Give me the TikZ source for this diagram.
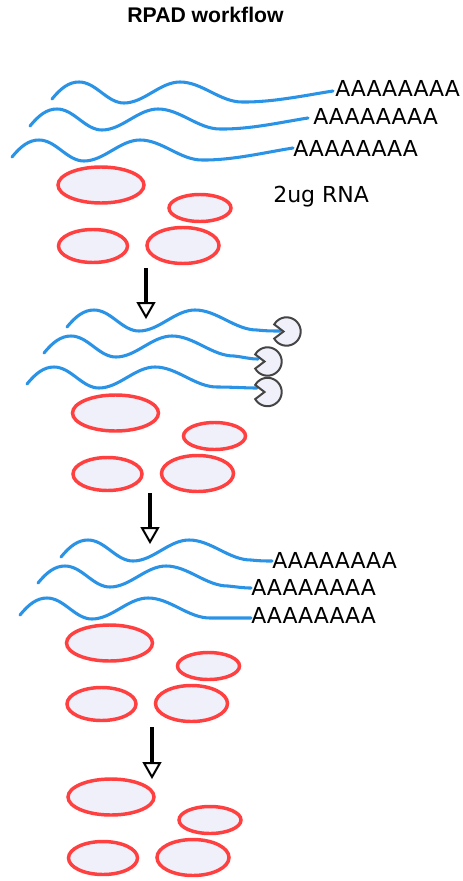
\documentclass[tikz,border=0pt]{standalone}
\usepackage{fontspec}
\setmainfont{DejaVu Sans}
\newfontfamily\headfont{Liberation Sans}
\usetikzlibrary{arrows.meta}

\definecolor{rnablue}{HTML}{2A93E6}
\definecolor{cellred}{HTML}{FF4040}
\definecolor{cellfill}{HTML}{F0F0FA}
\definecolor{enzgray}{HTML}{444444}

\tikzset{
  rna/.style={draw=rnablue, line width=2.3pt, line cap=round},
  cell/.style={draw=cellred, fill=cellfill, line width=2.6pt},
  polya/.style={anchor=base west, inner sep=0pt, font=\fontsize{16.5}{20}\selectfont},
  label/.style={anchor=base west, inner sep=0pt, font=\fontsize{16.5}{20}\selectfont},
  heading/.style={anchor=base, inner sep=0pt, font=\headfont\bfseries\fontsize{15.9}{19}\selectfont},
  flow/.style={line width=2.8pt},
  flowhead/.style={draw=black, fill=white, line width=1.5pt, line join=miter},
  pacman/.pic={\draw[draw=enzgray, fill=cellfill, line width=1.5pt]
     (-3,0) -- (150:14.2) arc[start angle=150, end angle=-150, radius=14.2] -- cycle;}
}

% one mRNA strand: name, start x, start y, final segment
\newcommand\rnastrand[4]{%
  \begin{scope}[shift={(#2,#3)}]
    \draw[rna] (0,0) .. controls (9,-11) and (17,-17) .. (27,-17)
      .. controls (44,-17) and (55,4) .. (72,4)
      .. controls (92,4) and (108,-17) .. (128,-17)
      .. controls (150,-17) and (168,3) .. (190,3)
      #4 coordinate (#1);
  \end{scope}}

% four cells, shifted as a group
\newcommand\cellgroup[2]{%
  \begin{scope}[shift={(#1,#2)}]
    \draw[cell] (101,185) ellipse [x radius=43, y radius=18];
    \draw[cell] (200,208) ellipse [x radius=31, y radius=13.5];
    \draw[cell] (93,246) ellipse [x radius=34.5, y radius=16.5];
    \draw[cell] (183,245.5) ellipse [x radius=36, y radius=18];
  \end{scope}}

% downward step arrow: name prefix, x, top y, tip y
\newcommand\steparrow[4]{%
  \coordinate (#1s) at (#2,#3);
  \coordinate (#1b) at (#2,#4-14);
  \coordinate (#1e) at (#2,#4);
  \draw[flow] (#1s) -- (#1b);
  \draw[flowhead] ([xshift=-6pt]#1b) -- ([xshift=6pt]#1b) -- (#1e) -- cycle;}

\begin{document}
\begin{tikzpicture}[x=0.75pt, y=-0.75pt]
  \useasboundingbox (0,0) rectangle (462,881);

  \node[heading] (title) at (205.5,23) {RPAD workflow};

  % step 1: polyadenylated RNA with cells
  \rnastrand{e11}{52}{99}{.. controls (220,3.5) and (255,-4) .. (281,-8)}
  \rnastrand{e12}{30}{126}{.. controls (220,3.5) and (252,-4) .. (278,-8)}
  \rnastrand{e13}{12}{157}{.. controls (220,3.5) and (255,-5) .. (281,-9)}
  \node[polya] (pa11) at (335,97) {AAAAAAAA};
  \node[polya] (pa12) at (313,124) {AAAAAAAA};
  \node[polya] (pa13) at (293,156) {AAAAAAAA};
  \node[label] (amount) at (273,202) {2ug RNA};
  \cellgroup{0}{0}

  \steparrow{a1}{146}{268}{317}

  % step 2: enzyme bound to the 3' ends
  \rnastrand{e21}{67}{327}{.. controls (200,4) and (205,4) .. (213,4)}
  \rnastrand{e22}{44}{353}{.. controls (200,4) and (205,6) .. (214,6)}
  \rnastrand{e23}{27}{384}{.. controls (205,3) and (218,4) .. (230,4)}
  \pic (p1) at (286.5,331.5) {pacman};
  \pic (p2) at (267.5,361.5) {pacman};
  \pic (p3) at (267.5,392) {pacman};
  \cellgroup{14.5}{228}

  \steparrow{a2}{150}{493}{542}

  % step 3: polyadenylated RNA again
  \rnastrand{e31}{61}{557}{.. controls (200,4) and (204,4) .. (211,4)}
  \rnastrand{e32}{38}{583}{.. controls (200,4) and (205,5) .. (213,5)}
  \rnastrand{e33}{20}{615}{.. controls (205,3) and (218,3) .. (231,3)}
  \node[polya] (pa31) at (272,568) {AAAAAAAA};
  \node[polya] (pa32) at (251,595) {AAAAAAAA};
  \node[polya] (pa33) at (251,623) {AAAAAAAA};
  \cellgroup{8.5}{458}

  \steparrow{a3}{152}{727}{777}

  % step 4: cells only
  \cellgroup{10}{612}
\end{tikzpicture}
\end{document}
